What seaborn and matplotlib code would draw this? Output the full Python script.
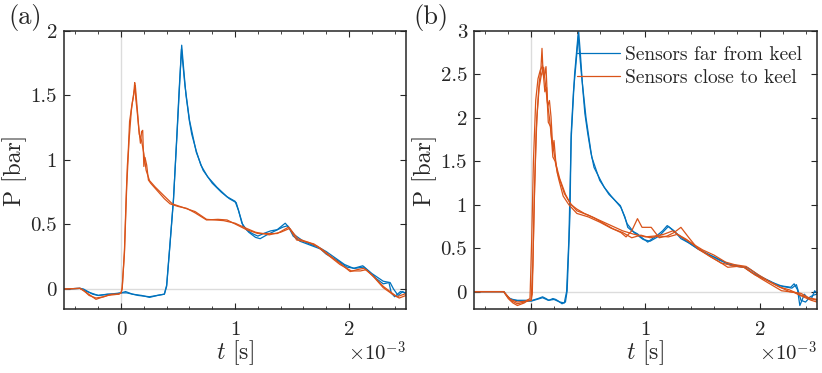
import numpy as np
import pandas as pd
import seaborn as sns
import matplotlib
matplotlib.use("Agg")
import matplotlib.pyplot as plt
from matplotlib.ticker import MultipleLocator, FuncFormatter

# time in ms (axis shows s x 1e-3), pressure in bar
# panel (a)
a_far1_t = [-0.5, -0.36, -0.33, -0.25, -0.2, -0.12, -0.05, 0.0, 0.04, 0.1, 0.18, 0.25, 0.32, 0.38, 0.40, 0.43, 0.46, 0.49, 0.51, 0.532, 0.55, 0.57, 0.6, 0.62, 0.66, 0.7, 0.76, 0.84, 0.93, 1.0, 1.03, 1.06, 1.1, 1.15, 1.2, 1.25, 1.31, 1.37, 1.44, 1.47, 1.51, 1.57, 1.63, 1.69, 1.75, 1.8, 1.9, 1.98, 2.05, 2.13, 2.18, 2.24, 2.3, 2.35, 2.37, 2.4, 2.45, 2.5]
a_far1_p = [0.0, 0.005, 0.0, -0.04, -0.05, -0.04, -0.04, -0.03, -0.02, -0.04, -0.05, -0.065, -0.05, -0.04, 0.02, 0.35, 0.69, 1.2, 1.55, 1.89, 1.7, 1.5, 1.3, 1.2, 1.07, 0.96, 0.87, 0.79, 0.715, 0.68, 0.61, 0.51, 0.46, 0.43, 0.41, 0.43, 0.45, 0.46, 0.51, 0.48, 0.41, 0.37, 0.35, 0.33, 0.31, 0.27, 0.22, 0.17, 0.16, 0.17, 0.13, 0.08, 0.04, 0.05, -0.03, -0.06, -0.02, -0.03]
a_far2_t = [-0.5, -0.36, -0.3, -0.2, -0.1, 0.0, 0.05, 0.15, 0.25, 0.38, 0.40, 0.43, 0.46, 0.49, 0.51, 0.53, 0.56, 0.6, 0.66, 0.72, 0.8, 0.88, 0.95, 1.01, 1.04, 1.07, 1.12, 1.18, 1.22, 1.28, 1.35, 1.42, 1.46, 1.52, 1.6, 1.68, 1.72, 1.8, 1.88, 1.96, 2.04, 2.12, 2.2, 2.3, 2.36, 2.39, 2.43, 2.47, 2.5]
a_far2_p = [0.0, 0.005, -0.02, -0.05, -0.04, -0.03, -0.03, -0.05, -0.06, -0.04, 0.03, 0.36, 0.70, 1.18, 1.52, 1.86, 1.58, 1.31, 1.06, 0.92, 0.82, 0.75, 0.70, 0.67, 0.58, 0.49, 0.44, 0.40, 0.39, 0.42, 0.45, 0.48, 0.49, 0.42, 0.37, 0.34, 0.33, 0.29, 0.24, 0.19, 0.16, 0.18, 0.12, 0.06, 0.05, 0.0, -0.05, -0.02, -0.04]
a_close1_t = [-0.5, -0.36, -0.33, -0.28, -0.22, -0.15, -0.08, -0.02, 0.0, 0.01, 0.03, 0.044, 0.055, 0.064, 0.075, 0.085, 0.094, 0.108, 0.115, 0.12, 0.13, 0.14, 0.155, 0.17, 0.18, 0.19, 0.2, 0.21, 0.225, 0.24, 0.26, 0.3, 0.34, 0.38, 0.43, 0.5, 0.576, 0.65, 0.75, 0.85, 0.93, 1.01, 1.1, 1.2, 1.3, 1.37, 1.47, 1.54, 1.6, 1.69, 1.76, 1.83, 1.92, 2.01, 2.07, 2.13, 2.2, 2.3, 2.36, 2.42, 2.5]
a_close1_p = [0.0, 0.005, -0.01, -0.05, -0.07, -0.06, -0.04, -0.04, -0.03, 0.0, 0.3, 0.69, 0.95, 1.08, 1.3, 1.36, 1.42, 1.49, 1.55, 1.6, 1.47, 1.39, 1.25, 1.13, 1.22, 1.23, 0.95, 1.02, 0.96, 0.845, 0.82, 0.78, 0.74, 0.70, 0.66, 0.64, 0.625, 0.59, 0.535, 0.54, 0.535, 0.50, 0.46, 0.43, 0.43, 0.43, 0.48, 0.38, 0.37, 0.35, 0.31, 0.26, 0.2, 0.135, 0.15, 0.16, 0.11, 0.02, -0.02, -0.06, -0.035]
a_close2_t = [-0.5, -0.36, -0.3, -0.22, -0.12, -0.02, 0.0, 0.01, 0.03, 0.05, 0.07, 0.09, 0.1, 0.115, 0.125, 0.14, 0.16, 0.18, 0.2, 0.22, 0.25, 0.3, 0.38, 0.45, 0.55, 0.65, 0.75, 0.9, 1.0, 1.1, 1.18, 1.3, 1.4, 1.48, 1.55, 1.65, 1.72, 1.82, 1.92, 2.02, 2.1, 2.15, 2.22, 2.3, 2.38, 2.44, 2.5]
a_close2_p = [0.0, 0.005, -0.03, -0.08, -0.05, -0.04, -0.03, 0.01, 0.28, 0.8, 1.15, 1.38, 1.45, 1.53, 1.58, 1.42, 1.2, 1.15, 1.05, 0.92, 0.84, 0.79, 0.72, 0.66, 0.63, 0.6, 0.54, 0.53, 0.51, 0.47, 0.44, 0.42, 0.44, 0.47, 0.39, 0.36, 0.33, 0.26, 0.19, 0.14, 0.14, 0.15, 0.09, 0.01, -0.04, -0.07, -0.05]

# panel (b)
b_far1_t = [-0.5, -0.24, -0.21, -0.18, -0.12, -0.05, 0.01, 0.06, 0.1, 0.13, 0.155, 0.19, 0.215, 0.24, 0.27, 0.30, 0.315, 0.34, 0.35, 0.37, 0.39, 0.416, 0.43, 0.45, 0.47, 0.495, 0.52, 0.55, 0.6, 0.64, 0.7, 0.785, 0.82, 0.845, 0.88, 0.93, 0.97, 1.02, 1.06, 1.1, 1.15, 1.19, 1.25, 1.31, 1.38, 1.46, 1.53, 1.6, 1.68, 1.75, 1.8, 1.865, 1.93, 2.01, 2.09, 2.16, 2.22, 2.27, 2.30, 2.33, 2.35, 2.39, 2.42, 2.45, 2.48, 2.5]
b_far1_p = [0.0, 0.0, -0.05, -0.085, -0.1, -0.1, -0.1, -0.08, -0.06, -0.08, -0.1, -0.08, -0.09, -0.11, -0.14, -0.12, 0.01, 0.9, 1.82, 2.3, 2.59, 2.99, 2.75, 2.36, 2.05, 1.82, 1.62, 1.43, 1.3, 1.2, 1.1, 0.97, 0.86, 0.74, 0.70, 0.665, 0.62, 0.57, 0.61, 0.645, 0.70, 0.76, 0.70, 0.61, 0.56, 0.49, 0.44, 0.40, 0.35, 0.30, 0.29, 0.28, 0.22, 0.165, 0.12, 0.07, 0.06, 0.05, 0.09, 0.02, -0.16, -0.03, -0.08, -0.085, 0.01, -0.02]
b_far2_t = [-0.5, -0.24, -0.2, -0.15, -0.08, 0.0, 0.05, 0.1, 0.15, 0.2, 0.25, 0.29, 0.31, 0.33, 0.35, 0.38, 0.41, 0.44, 0.48, 0.53, 0.6, 0.68, 0.78, 0.84, 0.9, 0.98, 1.04, 1.12, 1.2, 1.28, 1.36, 1.45, 1.55, 1.65, 1.72, 1.8, 1.9, 2.0, 2.1, 2.2, 2.28, 2.32, 2.36, 2.4, 2.44, 2.47, 2.5]
b_far2_p = [0.0, 0.0, -0.07, -0.1, -0.11, -0.11, -0.09, -0.07, -0.1, -0.09, -0.12, -0.13, 0.0, 0.6, 1.75, 2.5, 2.95, 2.5, 2.0, 1.55, 1.28, 1.12, 0.99, 0.78, 0.68, 0.60, 0.58, 0.64, 0.75, 0.66, 0.58, 0.50, 0.43, 0.36, 0.32, 0.30, 0.27, 0.18, 0.11, 0.06, 0.04, 0.08, -0.1, -0.12, -0.06, -0.04, -0.03]
b_close1_t = [-0.5, -0.24, -0.2, -0.16, -0.12, -0.06, -0.03, 0.0, 0.01, 0.025, 0.043, 0.055, 0.07, 0.085, 0.095, 0.105, 0.115, 0.13, 0.145, 0.16, 0.174, 0.19, 0.2, 0.215, 0.23, 0.26, 0.29, 0.35, 0.4, 0.465, 0.55, 0.64, 0.72, 0.785, 0.83, 0.88, 0.93, 0.97, 1.05, 1.12, 1.19, 1.25, 1.31, 1.38, 1.46, 1.57, 1.65, 1.72, 1.8, 1.865, 1.93, 2.01, 2.1, 2.19, 2.25, 2.3, 2.38, 2.45, 2.5]
b_close1_p = [0.0, 0.0, -0.08, -0.13, -0.16, -0.13, -0.1, -0.1, -0.03, 0.9, 1.82, 2.1, 2.4, 2.55, 2.8, 2.5, 2.47, 2.59, 2.13, 2.2, 2.01, 1.63, 1.74, 1.5, 1.36, 1.25, 1.13, 1.0, 0.95, 0.90, 0.85, 0.78, 0.72, 0.68, 0.63, 0.7, 0.84, 0.74, 0.74, 0.62, 0.64, 0.68, 0.74, 0.62, 0.49, 0.40, 0.34, 0.28, 0.29, 0.28, 0.22, 0.15, 0.08, 0.01, 0.0, -0.01, -0.06, -0.1, -0.12]
b_close2_t = [-0.5, -0.24, -0.18, -0.12, -0.06, 0.0, 0.015, 0.03, 0.05, 0.07, 0.09, 0.11, 0.12, 0.14, 0.16, 0.18, 0.2, 0.22, 0.25, 0.3, 0.34, 0.4, 0.5, 0.6, 0.7, 0.8, 0.9, 1.0, 1.08, 1.16, 1.24, 1.3, 1.4, 1.5, 1.6, 1.7, 1.78, 1.88, 1.98, 2.08, 2.18, 2.26, 2.34, 2.42, 2.5]
b_close2_p = [0.0, 0.0, -0.1, -0.14, -0.12, -0.1, 0.3, 1.2, 2.0, 2.35, 2.5, 2.58, 2.45, 2.2, 2.0, 1.75, 1.6, 1.45, 1.3, 1.12, 1.02, 0.93, 0.88, 0.82, 0.76, 0.70, 0.66, 0.63, 0.64, 0.66, 0.70, 0.64, 0.56, 0.48, 0.42, 0.34, 0.31, 0.29, 0.2, 0.12, 0.05, 0.02, -0.03, -0.07, -0.09]
b_close3_t = [-0.5, -0.24, -0.18, -0.12, -0.05, -0.01, 0.005, 0.02, 0.04, 0.06, 0.08, 0.1, 0.12, 0.135, 0.15, 0.17, 0.19, 0.21, 0.24, 0.28, 0.33, 0.4, 0.5, 0.6, 0.7, 0.8, 0.88, 0.96, 1.04, 1.12, 1.2, 1.28, 1.36, 1.46, 1.56, 1.66, 1.76, 1.86, 1.96, 2.06, 2.16, 2.26, 2.36, 2.44, 2.5]
b_close3_p = [0.0, 0.0, -0.09, -0.12, -0.11, -0.08, 0.6, 1.5, 2.2, 2.45, 2.55, 2.6, 2.3, 2.35, 1.95, 1.9, 1.55, 1.5, 1.3, 1.1, 1.0, 0.9, 0.86, 0.8, 0.73, 0.68, 0.62, 0.65, 0.62, 0.64, 0.63, 0.66, 0.60, 0.50, 0.41, 0.33, 0.30, 0.28, 0.19, 0.13, 0.06, 0.0, -0.02, -0.08, -0.1]

FAR = "Sensors far from keel"
CLOSE = "Sensors close to keel"


def make_df(traces):
    frames = []
    for name, group, t, p in traces:
        frames.append(pd.DataFrame({"t": t, "P": p, "group": group, "trace": name}))
    return pd.concat(frames, ignore_index=True)


df_a = make_df([("f1", FAR, a_far1_t, a_far1_p), ("f2", FAR, a_far2_t, a_far2_p),
                ("c1", CLOSE, a_close1_t, a_close1_p), ("c2", CLOSE, a_close2_t, a_close2_p)])
df_b = make_df([("f1", FAR, b_far1_t, b_far1_p), ("f2", FAR, b_far2_t, b_far2_p),
                ("c1", CLOSE, b_close1_t, b_close1_p), ("c2", CLOSE, b_close2_t, b_close2_p),
                ("c3", CLOSE, b_close3_t, b_close3_p)])

sns.set_style("ticks")
plt.rcParams["font.family"] = "serif"
plt.rcParams["font.serif"] = ["cmr10"]
plt.rcParams["mathtext.fontset"] = "cm"
plt.rcParams["axes.formatter.use_mathtext"] = True

palette = {FAR: "#0072BD", CLOSE: "#D95319"}

fig = plt.figure(figsize=(8.22, 3.73), dpi=100)
ax_a = fig.add_axes([0.0779, 0.1716, 0.4161, 0.7453])
ax_b = fig.add_axes([0.5766, 0.1716, 0.4173, 0.7453])

for ax, df, ylim, lab, labx in [(ax_a, df_a, (-0.155, 2), "(a)", 0.010),
                                (ax_b, df_b, (-0.2, 3), "(b)", 0.503)]:
    ax.axhline(0, color="#dcdcdc", lw=1, zorder=0)
    ax.axvline(0, color="#dcdcdc", lw=1, zorder=0)
    sns.lineplot(data=df, x="t", y="P", hue="group", units="trace", estimator=None,
                 sort=False, palette=palette, lw=0.9, ax=ax, legend=(ax is ax_b))
    ax.set_xlim(-0.5, 2.5)
    ax.set_ylim(*ylim)
    ax.xaxis.set_major_locator(MultipleLocator(1))
    ax.xaxis.set_minor_locator(MultipleLocator(0.2))
    ax.yaxis.set_major_locator(MultipleLocator(0.5))
    ax.yaxis.set_major_formatter(FuncFormatter(lambda v, pos: f"{v:g}"))
    ax.xaxis.set_major_formatter(FuncFormatter(lambda v, pos: f"{v:g}"))
    ax.tick_params(which="both", direction="in", top=True, right=True, color="#262626")
    ax.tick_params(which="major", length=4, width=0.8, labelsize=15)
    ax.tick_params(axis="x", which="major", pad=9)
    ax.tick_params(axis="y", which="major", pad=5)
    ax.tick_params(which="minor", length=2, width=0.6)
    for s in ax.spines.values():
        s.set_linewidth(1.1)
        s.set_color("#262626")
    ax.set_xlabel(r"$t$ [s]", fontsize=17, va="center")
    ax.set_ylabel("P [bar]", fontsize=17, va="center")
    ax.xaxis.set_label_coords(0.5, -0.158)
    ax.yaxis.set_label_coords(-0.143, 0.5)
    ax.text(1.0, -0.158, r"$\times10^{-3}$", transform=ax.transAxes, ha="right", va="center", fontsize=15)
    fig.text(labx, 0.952, lab, fontsize=19, va="center", ha="left")

leg = ax_b.legend(loc="upper right", frameon=False, fontsize=14, handlelength=2.2,
                  handletextpad=0.3, borderaxespad=0.35, labelspacing=0.3)
for h in leg.get_lines():
    h.set_linewidth(0.9)

fig.savefig("out.png", dpi=100)
